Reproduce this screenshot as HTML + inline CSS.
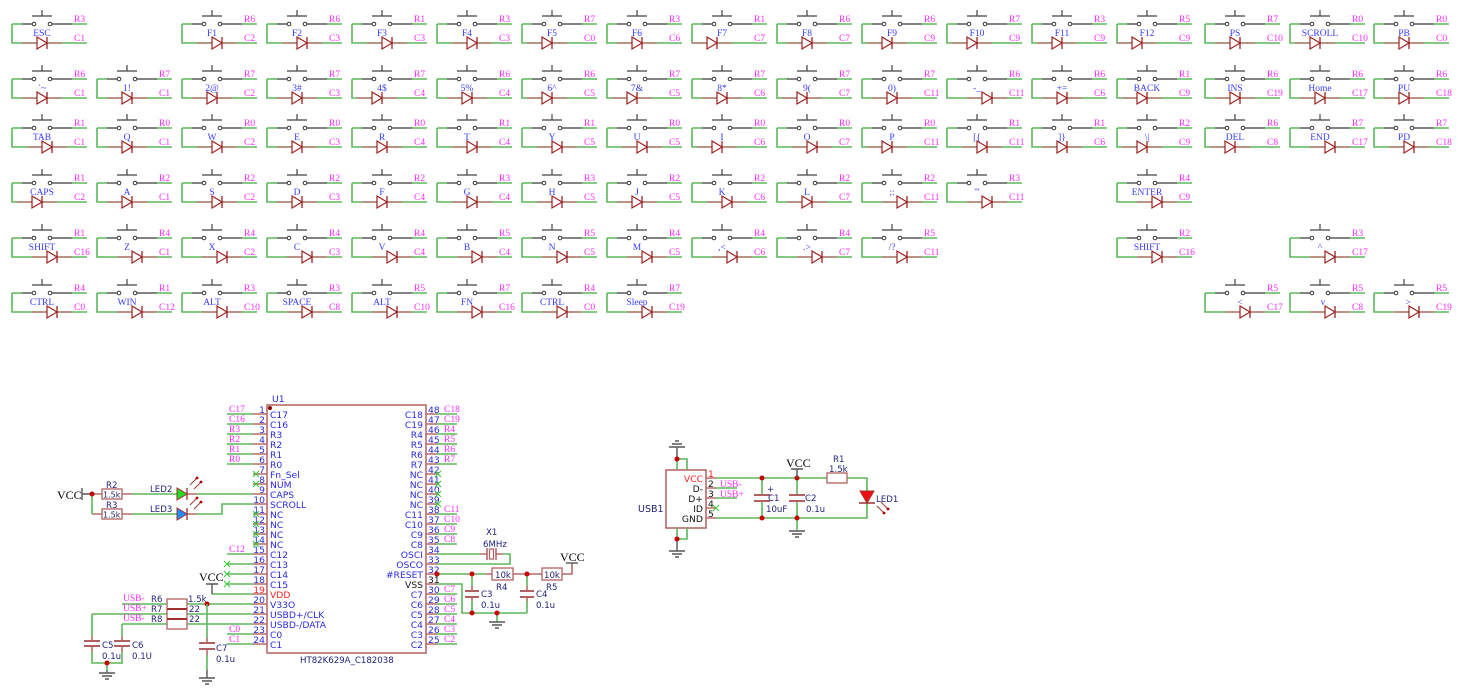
<!DOCTYPE html>
<html><head><meta charset="utf-8"><style>
html,body{margin:0;padding:0;background:#fff;}
svg{display:block;}
.g{stroke:#5cb85c;stroke-width:1.6;fill:none;}
.br{stroke:#b86a6a;stroke-width:1.6;fill:none;}
.dk{stroke:#555;stroke-width:1.4;fill:none;}
.r{font-family:"Liberation Serif",serif;font-size:9.5px;fill:#ff2bff;}
.k{font-family:"Liberation Serif",serif;font-size:9.5px;fill:#3a3aff;text-anchor:middle;}
.pn{font-family:"DejaVu Sans",sans-serif;font-size:9.2px;fill:#2a2ae0;}
.pe{font-family:"DejaVu Sans",sans-serif;font-size:9.2px;fill:#2a2ae0;text-anchor:end;}
.cl{font-family:"DejaVu Sans",sans-serif;font-size:8.6px;fill:#22227a;}
.vc{font-family:"Liberation Serif",serif;font-size:12px;fill:#000;}
.dot{fill:#cc0000;}
</style></head><body>
<svg width="1465" height="695" viewBox="0 0 1465 695" xmlns="http://www.w3.org/2000/svg">
<defs>
<g id="sw">
<path class="g" d="M0,0V19H75M0,0H10M60,0H75"/>
<path d="M10,0H20.2M39.8,0H60" stroke="#5a5a5a" stroke-width="1.6" fill="none"/>
<circle cx="22" cy="0" r="1.8" fill="#fff" stroke="#333" stroke-width="1"/>
<circle cx="38" cy="0" r="1.8" fill="#fff" stroke="#333" stroke-width="1"/>
<path d="M20,-8H40M30,-14V-8" stroke="#444" stroke-width="1.2" fill="none"/>
</g>
<g id="di">
<path d="M-15,0H25" stroke="#c07a7a" stroke-width="1.6" fill="none"/>
<path d="M0,-6L10,0L0,6Z" fill="#fff" stroke="#a02020" stroke-width="1.2"/>
<path d="M10,-6V6" stroke="#a02020" stroke-width="1.3"/>
</g>
<g id="gnd"><path d="M-8,0H8M-5,3H5M-2,6H2" stroke="#555" stroke-width="1.5" fill="none"/></g>
<g id="gndu"><path d="M-8,0H8M-5,-3H5M-2,-6H2" stroke="#555" stroke-width="1.5" fill="none"/></g>
<g id="nc"><path d="M-3,-3L3,3M3,-3L-3,3" stroke="#33cc33" stroke-width="1" fill="none"/></g>
</defs>
<rect width="1465" height="695" fill="#fff"/>

<!-- ROW 1 y=24 -->
<use href="#sw" x="12" y="24"/><use href="#di" x="37" y="43"/><text class="r" x="74" y="22">R3</text><text class="r" x="74" y="41">C1</text><text class="k" x="42" y="36">ESC</text>
<use href="#sw" x="182" y="24"/><use href="#di" x="212" y="43"/><text class="r" x="244" y="22">R6</text><text class="r" x="244" y="41">C2</text><text class="k" x="212" y="36">F1</text>
<use href="#sw" x="267" y="24"/><use href="#di" x="297" y="43"/><text class="r" x="329" y="22">R6</text><text class="r" x="329" y="41">C3</text><text class="k" x="297" y="36">F2</text>
<use href="#sw" x="352" y="24"/><use href="#di" x="382" y="43"/><text class="r" x="414" y="22">R1</text><text class="r" x="414" y="41">C3</text><text class="k" x="382" y="36">F3</text>
<use href="#sw" x="437" y="24"/><use href="#di" x="467" y="43"/><text class="r" x="499" y="22">R3</text><text class="r" x="499" y="41">C3</text><text class="k" x="467" y="36">F4</text>
<use href="#sw" x="522" y="24"/><use href="#di" x="542" y="43"/><text class="r" x="584" y="22">R7</text><text class="r" x="584" y="41">C0</text><text class="k" x="552" y="36">F5</text>
<use href="#sw" x="607" y="24"/><use href="#di" x="632" y="43"/><text class="r" x="669" y="22">R3</text><text class="r" x="669" y="41">C6</text><text class="k" x="637" y="36">F6</text>
<use href="#sw" x="692" y="24"/><use href="#di" x="707" y="43"/><text class="r" x="754" y="22">R1</text><text class="r" x="754" y="41">C7</text><text class="k" x="722" y="36">F7</text>
<use href="#sw" x="777" y="24"/><use href="#di" x="802" y="43"/><text class="r" x="839" y="22">R6</text><text class="r" x="839" y="41">C7</text><text class="k" x="807" y="36">F8</text>
<use href="#sw" x="862" y="24"/><use href="#di" x="882" y="43"/><text class="r" x="924" y="22">R6</text><text class="r" x="924" y="41">C9</text><text class="k" x="892" y="36">F9</text>
<use href="#sw" x="947" y="24"/><use href="#di" x="967" y="43"/><text class="r" x="1009" y="22">R7</text><text class="r" x="1009" y="41">C9</text><text class="k" x="977" y="36">F10</text>
<use href="#sw" x="1032" y="24"/><use href="#di" x="1052" y="43"/><text class="r" x="1094" y="22">R3</text><text class="r" x="1094" y="41">C9</text><text class="k" x="1062" y="36">F11</text>
<use href="#sw" x="1117" y="24"/><use href="#di" x="1132" y="43"/><text class="r" x="1179" y="22">R5</text><text class="r" x="1179" y="41">C9</text><text class="k" x="1147" y="36">F12</text>
<use href="#sw" x="1205" y="24"/><use href="#di" x="1230" y="43"/><text class="r" x="1267" y="22">R7</text><text class="r" x="1267" y="41">C10</text><text class="k" x="1235" y="36">PS</text>
<use href="#sw" x="1290" y="24"/><use href="#di" x="1310" y="43"/><text class="r" x="1352" y="22">R0</text><text class="r" x="1352" y="41">C10</text><text class="k" x="1320" y="36">SCROLL</text>
<use href="#sw" x="1374" y="24"/><use href="#di" x="1399" y="43"/><text class="r" x="1436" y="22">R0</text><text class="r" x="1436" y="41">C0</text><text class="k" x="1404" y="36">PB</text>

<!-- ROW 2 y=79 -->
<use href="#sw" x="12" y="79"/><use href="#di" x="37" y="98"/><text class="r" x="74" y="77">R6</text><text class="r" x="74" y="96">C1</text><text class="k" x="42" y="91">`~</text>
<use href="#sw" x="97" y="79"/><use href="#di" x="122" y="98"/><text class="r" x="159" y="77">R7</text><text class="r" x="159" y="96">C1</text><text class="k" x="127" y="91">1!</text>
<use href="#sw" x="182" y="79"/><use href="#di" x="207" y="98"/><text class="r" x="244" y="77">R7</text><text class="r" x="244" y="96">C2</text><text class="k" x="212" y="91">2@</text>
<use href="#sw" x="267" y="79"/><use href="#di" x="292" y="98"/><text class="r" x="329" y="77">R7</text><text class="r" x="329" y="96">C3</text><text class="k" x="297" y="91">3#</text>
<use href="#sw" x="352" y="79"/><use href="#di" x="372" y="98"/><text class="r" x="414" y="77">R7</text><text class="r" x="414" y="96">C4</text><text class="k" x="382" y="91">4$</text>
<use href="#sw" x="437" y="79"/><use href="#di" x="462" y="98"/><text class="r" x="499" y="77">R6</text><text class="r" x="499" y="96">C4</text><text class="k" x="467" y="91">5%</text>
<use href="#sw" x="522" y="79"/><use href="#di" x="542" y="98"/><text class="r" x="584" y="77">R6</text><text class="r" x="584" y="96">C5</text><text class="k" x="552" y="91">6^</text>
<use href="#sw" x="607" y="79"/><use href="#di" x="627" y="98"/><text class="r" x="669" y="77">R7</text><text class="r" x="669" y="96">C5</text><text class="k" x="637" y="91">7&amp;</text>
<use href="#sw" x="692" y="79"/><use href="#di" x="717" y="98"/><text class="r" x="754" y="77">R7</text><text class="r" x="754" y="96">C6</text><text class="k" x="722" y="91">8*</text>
<use href="#sw" x="777" y="79"/><use href="#di" x="797" y="98"/><text class="r" x="839" y="77">R7</text><text class="r" x="839" y="96">C7</text><text class="k" x="807" y="91">9(</text>
<use href="#sw" x="862" y="79"/><use href="#di" x="887" y="98"/><text class="r" x="924" y="77">R7</text><text class="r" x="924" y="96">C11</text><text class="k" x="892" y="91">0)</text>
<use href="#sw" x="947" y="79"/><use href="#di" x="982" y="98"/><text class="r" x="1009" y="77">R6</text><text class="r" x="1009" y="96">C11</text><text class="k" x="977" y="91">-_</text>
<use href="#sw" x="1032" y="79"/><use href="#di" x="1057" y="98"/><text class="r" x="1094" y="77">R6</text><text class="r" x="1094" y="96">C6</text><text class="k" x="1062" y="91">+=</text>
<use href="#sw" x="1117" y="79"/><use href="#di" x="1137" y="98"/><text class="r" x="1179" y="77">R1</text><text class="r" x="1179" y="96">C9</text><text class="k" x="1147" y="91">BACK</text>
<use href="#sw" x="1205" y="79"/><use href="#di" x="1230" y="98"/><text class="r" x="1267" y="77">R6</text><text class="r" x="1267" y="96">C19</text><text class="k" x="1235" y="91">INS</text>
<use href="#sw" x="1290" y="79"/><use href="#di" x="1315" y="98"/><text class="r" x="1352" y="77">R6</text><text class="r" x="1352" y="96">C17</text><text class="k" x="1320" y="91">Home</text>
<use href="#sw" x="1374" y="79"/><use href="#di" x="1399" y="98"/><text class="r" x="1436" y="77">R6</text><text class="r" x="1436" y="96">C18</text><text class="k" x="1404" y="91">PU</text>

<!-- ROW 3 y=128 -->
<use href="#sw" x="12" y="128"/><use href="#di" x="42" y="147"/><text class="r" x="74" y="126">R1</text><text class="r" x="74" y="145">C1</text><text class="k" x="42" y="140">TAB</text>
<use href="#sw" x="97" y="128"/><use href="#di" x="122" y="147"/><text class="r" x="159" y="126">R0</text><text class="r" x="159" y="145">C1</text><text class="k" x="127" y="140">Q</text>
<use href="#sw" x="182" y="128"/><use href="#di" x="212" y="147"/><text class="r" x="244" y="126">R0</text><text class="r" x="244" y="145">C2</text><text class="k" x="212" y="140">W</text>
<use href="#sw" x="267" y="128"/><use href="#di" x="292" y="147"/><text class="r" x="329" y="126">R0</text><text class="r" x="329" y="145">C3</text><text class="k" x="297" y="140">E</text>
<use href="#sw" x="352" y="128"/><use href="#di" x="377" y="147"/><text class="r" x="414" y="126">R0</text><text class="r" x="414" y="145">C4</text><text class="k" x="382" y="140">R</text>
<use href="#sw" x="437" y="128"/><use href="#di" x="467" y="147"/><text class="r" x="499" y="126">R1</text><text class="r" x="499" y="145">C4</text><text class="k" x="467" y="140">T</text>
<use href="#sw" x="522" y="128"/><use href="#di" x="552" y="147"/><text class="r" x="584" y="126">R1</text><text class="r" x="584" y="145">C5</text><text class="k" x="552" y="140">Y</text>
<use href="#sw" x="607" y="128"/><use href="#di" x="637" y="147"/><text class="r" x="669" y="126">R0</text><text class="r" x="669" y="145">C5</text><text class="k" x="637" y="140">U</text>
<use href="#sw" x="692" y="128"/><use href="#di" x="712" y="147"/><text class="r" x="754" y="126">R0</text><text class="r" x="754" y="145">C6</text><text class="k" x="722" y="140">I</text>
<use href="#sw" x="777" y="128"/><use href="#di" x="807" y="147"/><text class="r" x="839" y="126">R0</text><text class="r" x="839" y="145">C7</text><text class="k" x="807" y="140">O</text>
<use href="#sw" x="862" y="128"/><use href="#di" x="882" y="147"/><text class="r" x="924" y="126">R0</text><text class="r" x="924" y="145">C11</text><text class="k" x="892" y="140">P</text>
<use href="#sw" x="947" y="128"/><use href="#di" x="977" y="147"/><text class="r" x="1009" y="126">R1</text><text class="r" x="1009" y="145">C11</text><text class="k" x="977" y="140">[{</text>
<use href="#sw" x="1032" y="128"/><use href="#di" x="1057" y="147"/><text class="r" x="1094" y="126">R1</text><text class="r" x="1094" y="145">C6</text><text class="k" x="1062" y="140">]}</text>
<use href="#sw" x="1117" y="128"/><use href="#di" x="1137" y="147"/><text class="r" x="1179" y="126">R2</text><text class="r" x="1179" y="145">C9</text><text class="k" x="1147" y="140">\|</text>
<use href="#sw" x="1205" y="128"/><use href="#di" x="1225" y="147"/><text class="r" x="1267" y="126">R6</text><text class="r" x="1267" y="145">C8</text><text class="k" x="1235" y="140">DEL</text>
<use href="#sw" x="1290" y="128"/><use href="#di" x="1325" y="147"/><text class="r" x="1352" y="126">R7</text><text class="r" x="1352" y="145">C17</text><text class="k" x="1320" y="140">END</text>
<use href="#sw" x="1374" y="128"/><use href="#di" x="1404" y="147"/><text class="r" x="1436" y="126">R7</text><text class="r" x="1436" y="145">C18</text><text class="k" x="1404" y="140">PD</text>

<!-- ROW 4 y=183 -->
<use href="#sw" x="12" y="183"/><use href="#di" x="32" y="202"/><text class="r" x="74" y="181">R1</text><text class="r" x="74" y="200">C2</text><text class="k" x="42" y="195">CAPS</text>
<use href="#sw" x="97" y="183"/><use href="#di" x="122" y="202"/><text class="r" x="159" y="181">R2</text><text class="r" x="159" y="200">C1</text><text class="k" x="127" y="195">A</text>
<use href="#sw" x="182" y="183"/><use href="#di" x="212" y="202"/><text class="r" x="244" y="181">R2</text><text class="r" x="244" y="200">C2</text><text class="k" x="212" y="195">S</text>
<use href="#sw" x="267" y="183"/><use href="#di" x="292" y="202"/><text class="r" x="329" y="181">R2</text><text class="r" x="329" y="200">C3</text><text class="k" x="297" y="195">D</text>
<use href="#sw" x="352" y="183"/><use href="#di" x="377" y="202"/><text class="r" x="414" y="181">R2</text><text class="r" x="414" y="200">C4</text><text class="k" x="382" y="195">F</text>
<use href="#sw" x="437" y="183"/><use href="#di" x="467" y="202"/><text class="r" x="499" y="181">R3</text><text class="r" x="499" y="200">C4</text><text class="k" x="467" y="195">G</text>
<use href="#sw" x="522" y="183"/><use href="#di" x="552" y="202"/><text class="r" x="584" y="181">R3</text><text class="r" x="584" y="200">C5</text><text class="k" x="552" y="195">H</text>
<use href="#sw" x="607" y="183"/><use href="#di" x="632" y="202"/><text class="r" x="669" y="181">R2</text><text class="r" x="669" y="200">C5</text><text class="k" x="637" y="195">J</text>
<use href="#sw" x="692" y="183"/><use href="#di" x="722" y="202"/><text class="r" x="754" y="181">R2</text><text class="r" x="754" y="200">C6</text><text class="k" x="722" y="195">K</text>
<use href="#sw" x="777" y="183"/><use href="#di" x="802" y="202"/><text class="r" x="839" y="181">R2</text><text class="r" x="839" y="200">C7</text><text class="k" x="807" y="195">L</text>
<use href="#sw" x="862" y="183"/><use href="#di" x="897" y="202"/><text class="r" x="924" y="181">R2</text><text class="r" x="924" y="200">C11</text><text class="k" x="892" y="195">;:</text>
<use href="#sw" x="947" y="183"/><use href="#di" x="982" y="202"/><text class="r" x="1009" y="181">R3</text><text class="r" x="1009" y="200">C11</text><text class="k" x="977" y="195">'"</text>
<use href="#sw" x="1117" y="183"/><use href="#di" x="1152" y="202"/><text class="r" x="1179" y="181">R4</text><text class="r" x="1179" y="200">C9</text><text class="k" x="1147" y="195">ENTER</text>

<!-- ROW 5 y=238 -->
<use href="#sw" x="12" y="238"/><use href="#di" x="47" y="257"/><text class="r" x="74" y="236">R1</text><text class="r" x="74" y="255">C16</text><text class="k" x="42" y="250">SHIFT</text>
<use href="#sw" x="97" y="238"/><use href="#di" x="132" y="257"/><text class="r" x="159" y="236">R4</text><text class="r" x="159" y="255">C1</text><text class="k" x="127" y="250">Z</text>
<use href="#sw" x="182" y="238"/><use href="#di" x="217" y="257"/><text class="r" x="244" y="236">R4</text><text class="r" x="244" y="255">C2</text><text class="k" x="212" y="250">X</text>
<use href="#sw" x="267" y="238"/><use href="#di" x="302" y="257"/><text class="r" x="329" y="236">R4</text><text class="r" x="329" y="255">C3</text><text class="k" x="297" y="250">C</text>
<use href="#sw" x="352" y="238"/><use href="#di" x="387" y="257"/><text class="r" x="414" y="236">R4</text><text class="r" x="414" y="255">C4</text><text class="k" x="382" y="250">V</text>
<use href="#sw" x="437" y="238"/><use href="#di" x="472" y="257"/><text class="r" x="499" y="236">R5</text><text class="r" x="499" y="255">C4</text><text class="k" x="467" y="250">B</text>
<use href="#sw" x="522" y="238"/><use href="#di" x="557" y="257"/><text class="r" x="584" y="236">R5</text><text class="r" x="584" y="255">C5</text><text class="k" x="552" y="250">N</text>
<use href="#sw" x="607" y="238"/><use href="#di" x="642" y="257"/><text class="r" x="669" y="236">R4</text><text class="r" x="669" y="255">C5</text><text class="k" x="637" y="250">M</text>
<use href="#sw" x="692" y="238"/><use href="#di" x="727" y="257"/><text class="r" x="754" y="236">R4</text><text class="r" x="754" y="255">C6</text><text class="k" x="722" y="250">,&lt;</text>
<use href="#sw" x="777" y="238"/><use href="#di" x="812" y="257"/><text class="r" x="839" y="236">R4</text><text class="r" x="839" y="255">C7</text><text class="k" x="807" y="250">.&gt;</text>
<use href="#sw" x="862" y="238"/><use href="#di" x="897" y="257"/><text class="r" x="924" y="236">R5</text><text class="r" x="924" y="255">C11</text><text class="k" x="892" y="250">/?</text>
<use href="#sw" x="1117" y="238"/><use href="#di" x="1152" y="257"/><text class="r" x="1179" y="236">R2</text><text class="r" x="1179" y="255">C16</text><text class="k" x="1147" y="250">SHIFT</text>
<use href="#sw" x="1290" y="238"/><use href="#di" x="1325" y="257"/><text class="r" x="1352" y="236">R3</text><text class="r" x="1352" y="255">C17</text><text class="k" x="1320" y="250">^</text>

<!-- ROW 6 y=293 -->
<use href="#sw" x="12" y="293"/><use href="#di" x="47" y="312"/><text class="r" x="74" y="291">R4</text><text class="r" x="74" y="310">C0</text><text class="k" x="42" y="305">CTRL</text>
<use href="#sw" x="97" y="293"/><use href="#di" x="132" y="312"/><text class="r" x="159" y="291">R1</text><text class="r" x="159" y="310">C12</text><text class="k" x="127" y="305">WIN</text>
<use href="#sw" x="182" y="293"/><use href="#di" x="217" y="312"/><text class="r" x="244" y="291">R3</text><text class="r" x="244" y="310">C10</text><text class="k" x="212" y="305">ALT</text>
<use href="#sw" x="267" y="293"/><use href="#di" x="302" y="312"/><text class="r" x="329" y="291">R3</text><text class="r" x="329" y="310">C8</text><text class="k" x="297" y="305">SPACE</text>
<use href="#sw" x="352" y="293"/><use href="#di" x="387" y="312"/><text class="r" x="414" y="291">R5</text><text class="r" x="414" y="310">C10</text><text class="k" x="382" y="305">ALT</text>
<use href="#sw" x="437" y="293"/><use href="#di" x="472" y="312"/><text class="r" x="499" y="291">R7</text><text class="r" x="499" y="310">C16</text><text class="k" x="467" y="305">FN</text>
<use href="#sw" x="522" y="293"/><use href="#di" x="557" y="312"/><text class="r" x="584" y="291">R4</text><text class="r" x="584" y="310">C0</text><text class="k" x="552" y="305">CTRL</text>
<use href="#sw" x="607" y="293"/><use href="#di" x="642" y="312"/><text class="r" x="669" y="291">R7</text><text class="r" x="669" y="310">C19</text><text class="k" x="637" y="305">Sleep</text>
<use href="#sw" x="1205" y="293"/><use href="#di" x="1240" y="312"/><text class="r" x="1267" y="291">R5</text><text class="r" x="1267" y="310">C17</text><text class="k" x="1240" y="305">&lt;</text>
<use href="#sw" x="1290" y="293"/><use href="#di" x="1325" y="312"/><text class="r" x="1352" y="291">R5</text><text class="r" x="1352" y="310">C8</text><text class="k" x="1323" y="305">v</text>
<use href="#sw" x="1374" y="293"/><use href="#di" x="1409" y="312"/><text class="r" x="1436" y="291">R5</text><text class="r" x="1436" y="310">C19</text><text class="k" x="1408" y="305">&gt;</text>

<!-- ===== U1 CHIP ===== -->
<rect x="267" y="405" width="159" height="248" fill="none" stroke="#b06060" stroke-width="1.5"/>
<circle cx="270" cy="408" r="2" fill="#8b0000"/>
<text class="pn" x="272" y="402">U1</text>
<text class="pn" x="300" y="663" style="font-size:8.6px;fill:#22227a">HT82K629A_C182038</text>

<!-- pin stubs -->
<path class="br" d="M253,414H267M253,424H267M253,434H267M253,444H267M253,454H267M253,464H267M253,474H267M253,484H267M253,494H267M253,504H267M253,514H267M253,524H267M253,534H267M253,544H267M253,554H267M253,564H267M253,574H267M253,584H267M253,594H267M253,604H267M253,614H267M253,624H267M253,634H267M253,644H267"/>
<path class="br" d="M426,414H437M426,424H437M426,434H437M426,444H437M426,454H437M426,464H437M426,474H437M426,484H437M426,494H437M426,504H437M426,514H437M426,524H437M426,534H437M426,544H437M426,554H437M426,564H437M426,574H437M426,584H437M426,594H437M426,604H437M426,614H437M426,624H437M426,634H437M426,644H437"/>

<!-- left pin numbers -->
<g class="pe">
<text x="265" y="413">1</text><text x="265" y="423">2</text><text x="265" y="433">3</text><text x="265" y="443">4</text><text x="265" y="453">5</text><text x="265" y="463">6</text><text x="265" y="473">7</text><text x="265" y="483">8</text><text x="265" y="493">9</text><text x="265" y="503">10</text><text x="265" y="513">11</text><text x="265" y="523">12</text><text x="265" y="533">13</text><text x="265" y="543">14</text><text x="265" y="553">15</text><text x="265" y="563">16</text><text x="265" y="573">17</text><text x="265" y="583">18</text><text x="265" y="593" fill="#ff2020" style="fill:#ff2020">19</text><text x="265" y="603">20</text><text x="265" y="613">21</text><text x="265" y="623">22</text><text x="265" y="633">23</text><text x="265" y="643">24</text>
</g>
<!-- left pin names -->
<g class="pn">
<text x="270" y="418">C17</text><text x="270" y="428">C16</text><text x="270" y="438">R3</text><text x="270" y="448">R2</text><text x="270" y="458">R1</text><text x="270" y="468">R0</text><text x="270" y="478">Fn_Sel</text><text x="270" y="488">NUM</text><text x="270" y="498">CAPS</text><text x="270" y="508">SCROLL</text><text x="270" y="518">NC</text><text x="270" y="528">NC</text><text x="270" y="538">NC</text><text x="270" y="548">NC</text><text x="270" y="558">C12</text><text x="270" y="568">C13</text><text x="270" y="578">C14</text><text x="270" y="588">C15</text><text x="270" y="598" style="fill:#ff2020">VDD</text><text x="270" y="608">V33O</text><text x="270" y="618">USBD+/CLK</text><text x="270" y="628">USBD-/DATA</text><text x="270" y="638">C0</text><text x="270" y="648">C1</text>
</g>
<!-- right pin numbers -->
<g class="pn">
<text x="428" y="413">48</text><text x="428" y="423">47</text><text x="428" y="433">46</text><text x="428" y="443">45</text><text x="428" y="453">44</text><text x="428" y="463">43</text><text x="428" y="473">42</text><text x="428" y="483">41</text><text x="428" y="493">40</text><text x="428" y="503">39</text><text x="428" y="513">38</text><text x="428" y="523">37</text><text x="428" y="533">36</text><text x="428" y="543">35</text><text x="428" y="553">34</text><text x="428" y="563">33</text><text x="428" y="573">32</text><text x="428" y="583" style="fill:#111">31</text><text x="428" y="593">30</text><text x="428" y="603">29</text><text x="428" y="613">28</text><text x="428" y="623">27</text><text x="428" y="633">26</text><text x="428" y="643">25</text>
</g>
<g class="pe">
<text x="423" y="418">C18</text><text x="423" y="428">C19</text><text x="423" y="438">R4</text><text x="423" y="448">R5</text><text x="423" y="458">R6</text><text x="423" y="468">R7</text><text x="423" y="478">NC</text><text x="423" y="488">NC</text><text x="423" y="498">NC</text><text x="423" y="508">NC</text><text x="423" y="518">C11</text><text x="423" y="528">C10</text><text x="423" y="538">C9</text><text x="423" y="548">C8</text><text x="423" y="558">OSCI</text><text x="423" y="568">OSCO</text><text x="423" y="578">#RESET</text><text x="423" y="588" style="fill:#111">VSS</text><text x="423" y="598">C7</text><text x="423" y="608">C6</text><text x="423" y="618">C5</text><text x="423" y="628">C4</text><text x="423" y="638">C3</text><text x="423" y="648">C2</text>
</g>

<!-- left side green wires -->
<path class="g" d="M227,414H253M227,424H253M227,434H253M227,444H253M227,454H253M227,464H253M227,554H253M227,564H253M227,574H253M227,584H253M212,594H253M227,634H253M227,644H253"/>
<g class="r">
<text x="229" y="412">C17</text><text x="229" y="422">C16</text><text x="229" y="432">R3</text><text x="229" y="442">R2</text><text x="229" y="452">R1</text><text x="229" y="462">R0</text><text x="229" y="552">C12</text><text x="229" y="632">C0</text><text x="229" y="642">C1</text>
</g>
<use href="#nc" x="256" y="474"/><use href="#nc" x="256" y="484"/><use href="#nc" x="256" y="514"/><use href="#nc" x="256" y="524"/><use href="#nc" x="256" y="534"/><use href="#nc" x="256" y="544"/>
<use href="#nc" x="227" y="564"/><use href="#nc" x="227" y="574"/><use href="#nc" x="227" y="584"/>

<!-- right side green wires -->
<path class="g" d="M437,414H457M437,424H457M437,434H457M437,444H457M437,454H457M437,464H457M437,514H457M437,524H457M437,534H457M437,544H457M437,594H457M437,604H457M437,614H457M437,624H457M437,634H457M437,644H457"/>
<g class="r">
<text x="444" y="412">C18</text><text x="444" y="422">C19</text><text x="444" y="432">R4</text><text x="444" y="442">R5</text><text x="444" y="452">R6</text><text x="444" y="462">R7</text><text x="444" y="512">C11</text><text x="444" y="522">C10</text><text x="444" y="532">C9</text><text x="444" y="542">C8</text><text x="444" y="592">C7</text><text x="444" y="602">C6</text><text x="444" y="612">C5</text><text x="444" y="622">C4</text><text x="444" y="632">C3</text><text x="444" y="642">C2</text>
</g>
<use href="#nc" x="438" y="474"/><use href="#nc" x="438" y="484"/><use href="#nc" x="438" y="494"/><use href="#nc" x="438" y="504"/>

<!-- VCC at pin 19 -->
<path class="dk" d="M212,584V594M206,584H218"/>
<text class="vc" x="199" y="581">VCC</text>

<!-- LED section -->
<text class="vc" x="57" y="499">VCC</text>
<path class="dk" d="M82,488V500M82,494H92"/>
<path class="br" d="M92,494H102M122,494H132M92,514H102M122,514H132M187,494H197M187,514H197"/>
<path class="g" d="M92,494V514M132,494H177M197,494H253M132,514H177M197,514H222V504H253"/>
<circle class="dot" cx="92" cy="494" r="2.5"/>
<rect x="102" y="489" width="20" height="10" fill="#fff" stroke="#b06060" stroke-width="1.3"/>
<rect x="102" y="509" width="20" height="10" fill="#fff" stroke="#b06060" stroke-width="1.3"/>
<text class="cl" x="103" y="497.5" style="font-size:8px">1.5k</text>
<text class="cl" x="103" y="517.5" style="font-size:8px">1.5k</text>
<text class="cl" x="106" y="488">R2</text>
<text class="cl" x="106" y="508">R3</text>
<text class="cl" x="150" y="492">LED2</text>
<text class="cl" x="150" y="512">LED3</text>
<path d="M177,488L177,500L187,494Z" fill="#22dd22" stroke="#a03030" stroke-width="1"/>
<path d="M187,488V500" stroke="#a03030" stroke-width="1.3"/>
<path d="M177,508L177,520L187,514Z" fill="#1e8fff" stroke="#a03030" stroke-width="1"/>
<path d="M187,508V520" stroke="#a03030" stroke-width="1.3"/>
<path d="M190,485L197,478M194,489L201,482M190,505L197,498M194,509L201,502" stroke="#a04040" stroke-width="1.1"/>
<circle cx="197" cy="478" r="1.4" fill="#a00"/><circle cx="201" cy="482" r="1.4" fill="#a00"/><circle cx="197" cy="498" r="1.4" fill="#a00"/><circle cx="201" cy="502" r="1.4" fill="#a00"/>

<!-- USB resistor network R6 R7 R8 -->
<path class="g" d="M122,604H167M187,604H253M92,614H167M187,614H253M122,624H167M187,624H253"/>
<rect x="167" y="599" width="20" height="30" fill="#fff" stroke="#b06060" stroke-width="1.3"/>
<path d="M167,609H187M167,619H187" stroke="#a03030" stroke-width="2"/>
<g class="r"><text x="123" y="601">USB-</text><text x="123" y="611">USB+</text><text x="123" y="621">USB-</text></g>
<text class="cl" x="151" y="602">R6</text><text class="cl" x="151" y="612">R7</text><text class="cl" x="151" y="622">R8</text>
<text class="cl" x="188" y="602">1.5k</text><text class="cl" x="189" y="612">22</text><text class="cl" x="189" y="622">22</text>
<circle class="dot" cx="207" cy="604" r="2.5"/>
<!-- C5 C6 -->
<path class="g" d="M92,614V636M122,624V636M92,652V663H122V652M207,604V638M207,655V670M107,663V670"/>
<path class="br" d="M92,636V641M92,646V652M122,636V641M122,646V652M207,638V643M207,649V655"/>
<path d="M84,641H100M84,646H100M114,641H130M114,646H130M199,643H215M199,649H215" stroke="#b06060" stroke-width="2"/>
<circle class="dot" cx="107" cy="663" r="2.5"/>
<path class="dk" d="M107,670V673M207,670V678"/>
<use href="#gnd" x="107" y="673"/><use href="#gnd" x="207" y="678"/>
<text class="cl" x="102" y="648">C5</text><text class="cl" x="102" y="659">0.1u</text>
<text class="cl" x="132" y="648">C6</text><text class="cl" x="132" y="659">0.1U</text>
<text class="cl" x="216" y="651">C7</text><text class="cl" x="216" y="662">0.1u</text>

<!-- Crystal -->
<path class="g" d="M437,554H480M503,554H510V564H437"/>
<path class="br" d="M480,554H487M496,554H503"/>
<path d="M487,548V560M496,548V560" stroke="#b06060" stroke-width="1.5"/>
<rect x="489.5" y="549" width="4" height="10" fill="#fff" stroke="#b06060" stroke-width="1.2"/>
<text class="cl" x="486" y="535">X1</text><text class="cl" x="483" y="547">6MHz</text>

<!-- Reset -->
<path class="g" d="M437,574H486M437,584H462V613H527M472,574V586M472,601V613M527,574V586M527,601V613M497,613V622"/>
<path class="br" d="M486,574H492M513,574H542M562,574H572V563M472,586V591M472,597V601M527,586V591M527,597V601"/>
<path d="M465,591H479M465,597H479M520,591H534M520,597H534" stroke="#b06060" stroke-width="2"/>
<path class="dk" d="M566,563H578"/>
<rect x="492" y="568" width="21" height="12" fill="#fff" stroke="#b06060" stroke-width="1.3"/>
<rect x="542" y="568" width="20" height="12" fill="#fff" stroke="#b06060" stroke-width="1.3"/>
<text class="cl" x="495" y="578">10k</text><text class="cl" x="544" y="578">10k</text>
<text class="cl" x="496" y="590">R4</text><text class="cl" x="546" y="590">R5</text>
<text class="vc" x="560" y="561">VCC</text>
<circle class="dot" cx="437" cy="574" r="2.5"/><circle class="dot" cx="472" cy="574" r="2.5"/><circle class="dot" cx="527" cy="574" r="2.5"/>
<circle class="dot" cx="472" cy="613" r="2.5"/><circle class="dot" cx="497" cy="613" r="2.5"/>
<use href="#gnd" x="497" y="622"/>
<text class="cl" x="481" y="597">C3</text><text class="cl" x="481" y="608">0.1u</text>
<text class="cl" x="536" y="597">C4</text><text class="cl" x="536" y="608">0.1u</text>

<!-- ===== USB connector ===== -->
<rect x="666" y="470" width="40" height="58" fill="none" stroke="#b06060" stroke-width="1.5"/>
<path class="br" d="M706,478H716M706,488H716M706,498H716M706,508H716M706,518H716"/>
<g class="pe" style="fill:#111">
<text x="703" y="482" style="fill:#ff2020">VCC</text><text x="703" y="492" style="fill:#111">D-</text><text x="703" y="502" style="fill:#111">D+</text><text x="703" y="512" style="fill:#111">ID</text><text x="703" y="522" style="fill:#111">GND</text>
</g>
<g class="pn" style="fill:#111">
<text x="708" y="477" style="fill:#ff2020">1</text><text x="708" y="487" style="fill:#111">2</text><text x="708" y="497" style="fill:#111">3</text><text x="708" y="507" style="fill:#111">4</text><text x="708" y="517" style="fill:#111">5</text>
</g>
<text class="cl" x="638" y="512" style="font-size:9.5px">USB1</text>
<path class="dk" d="M677,447V459"/>
<path class="g" d="M677,459V470M677,459H687V470M677,528V539M677,539H687V528"/>
<path class="dk" d="M677,539V551"/>
<circle class="dot" cx="677" cy="459" r="2.5"/><circle class="dot" cx="677" cy="539" r="2.5"/>
<use href="#gndu" x="677" y="447"/><use href="#gnd" x="677" y="551"/>
<use href="#nc" x="716" y="508"/>
<path class="g" d="M716,488H737M716,498H737M716,478H827M847,478H867V491M867,503V518H716M762,478V494M762,502V518M797,478V494M797,502V518M797,518V530"/>
<g class="r"><text x="720" y="487">USB-</text><text x="720" y="497">USB+</text></g>
<path d="M754,495H770M754,501H770M789,495H805M789,501H805" stroke="#b06060" stroke-width="2"/>
<text class="cl" x="767" y="492">+</text>
<rect x="827" y="473" width="20" height="10" fill="#fff" stroke="#b06060" stroke-width="1.3"/>
<path d="M860,491L874,491L867,503Z" fill="#ee1111" stroke="#a03030" stroke-width="1"/>
<path d="M859,503H875" stroke="#a03030" stroke-width="1.5"/>
<path d="M877,506L884,513M881,502L888,509" stroke="#a04040" stroke-width="1.1"/>
<circle cx="884" cy="513" r="1.4" fill="#a00"/><circle cx="888" cy="509" r="1.4" fill="#a00"/>
<circle class="dot" cx="762" cy="478" r="2.5"/><circle class="dot" cx="797" cy="478" r="2.5"/><circle class="dot" cx="762" cy="518" r="2.5"/><circle class="dot" cx="797" cy="518" r="2.5"/>
<path class="dk" d="M797,469V478M791,469H803"/>
<text class="vc" x="786" y="467">VCC</text>
<use href="#gnd" x="797" y="531"/>
<text class="cl" x="768" y="501">C1</text><text class="cl" x="766" y="512">10uF</text>
<text class="cl" x="805" y="501">C2</text><text class="cl" x="806" y="512">0.1u</text>
<text class="cl" x="833" y="462">R1</text><text class="cl" x="829" y="472">1.5k</text>
<text class="cl" x="876" y="502">LED1</text>
</svg>
</body></html>
